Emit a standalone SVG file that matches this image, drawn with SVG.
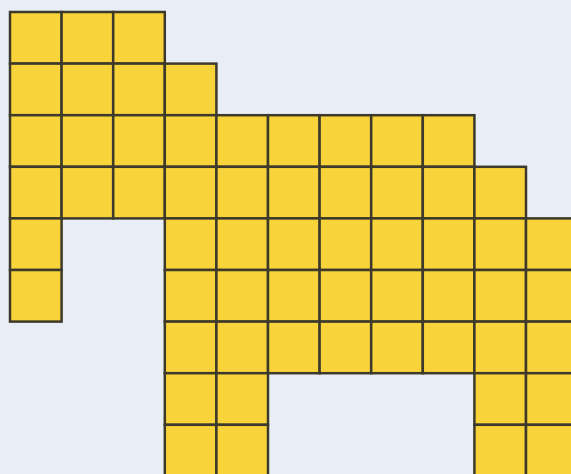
<svg xmlns="http://www.w3.org/2000/svg" width="571" height="474" viewBox="0 0 571 474">
<style>
.c{fill:#f8d33a;stroke:#3d3a2c;stroke-width:2.5}
</style>
<defs>
<rect id="cell" class="c" width="51.6" height="51.6"/>
</defs>
<rect width="571" height="474" fill="#e9eef6"/>
<g id="grid">
<!-- row 0 -->
<use href="#cell" x="10" y="12"/><use href="#cell" x="61.6" y="12"/><use href="#cell" x="113.2" y="12"/>
<!-- row 1 -->
<use href="#cell" x="10" y="63.6"/><use href="#cell" x="61.6" y="63.6"/><use href="#cell" x="113.2" y="63.6"/><use href="#cell" x="164.8" y="63.6"/>
<!-- row 2 -->
<use href="#cell" x="10" y="115.2"/><use href="#cell" x="61.6" y="115.2"/><use href="#cell" x="113.2" y="115.2"/><use href="#cell" x="164.8" y="115.2"/><use href="#cell" x="216.4" y="115.2"/><use href="#cell" x="268" y="115.2"/><use href="#cell" x="319.6" y="115.2"/><use href="#cell" x="371.2" y="115.2"/><use href="#cell" x="422.8" y="115.2"/>
<!-- row 3 -->
<use href="#cell" x="10" y="166.8"/><use href="#cell" x="61.6" y="166.8"/><use href="#cell" x="113.2" y="166.8"/><use href="#cell" x="164.8" y="166.8"/><use href="#cell" x="216.4" y="166.8"/><use href="#cell" x="268" y="166.8"/><use href="#cell" x="319.6" y="166.8"/><use href="#cell" x="371.2" y="166.8"/><use href="#cell" x="422.8" y="166.8"/><use href="#cell" x="474.4" y="166.8"/>
<!-- row 4 -->
<use href="#cell" x="10" y="218.4"/><use href="#cell" x="164.8" y="218.4"/><use href="#cell" x="216.4" y="218.4"/><use href="#cell" x="268" y="218.4"/><use href="#cell" x="319.6" y="218.4"/><use href="#cell" x="371.2" y="218.4"/><use href="#cell" x="422.8" y="218.4"/><use href="#cell" x="474.4" y="218.4"/><use href="#cell" x="526" y="218.4"/>
<!-- row 5 -->
<use href="#cell" x="10" y="270"/><use href="#cell" x="164.8" y="270"/><use href="#cell" x="216.4" y="270"/><use href="#cell" x="268" y="270"/><use href="#cell" x="319.6" y="270"/><use href="#cell" x="371.2" y="270"/><use href="#cell" x="422.8" y="270"/><use href="#cell" x="474.4" y="270"/><use href="#cell" x="526" y="270"/>
<!-- row 6 -->
<use href="#cell" x="164.8" y="321.6"/><use href="#cell" x="216.4" y="321.6"/><use href="#cell" x="268" y="321.6"/><use href="#cell" x="319.6" y="321.6"/><use href="#cell" x="371.2" y="321.6"/><use href="#cell" x="422.8" y="321.6"/><use href="#cell" x="474.4" y="321.6"/><use href="#cell" x="526" y="321.6"/>
<!-- row 7 -->
<use href="#cell" x="164.8" y="373.2"/><use href="#cell" x="216.4" y="373.2"/><use href="#cell" x="474.4" y="373.2"/><use href="#cell" x="526" y="373.2"/>
<!-- row 8 -->
<use href="#cell" x="164.8" y="424.8"/><use href="#cell" x="216.4" y="424.8"/><use href="#cell" x="474.4" y="424.8"/><use href="#cell" x="526" y="424.8"/>
</g>
</svg>
